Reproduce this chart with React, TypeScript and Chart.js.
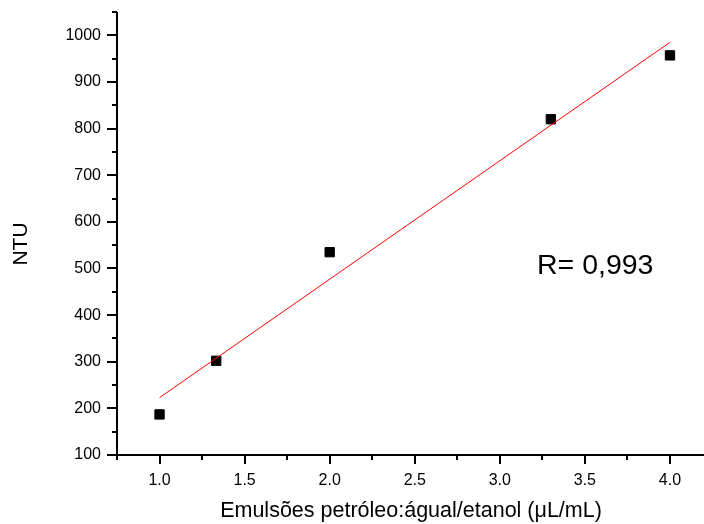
import { useEffect, useRef } from "react";
import { Chart, registerables } from "chart.js";

Chart.register(...registerables);

// Emulsion concentration (µL/mL) vs. turbidity (NTU)
const concentration = [1.0, 1.333, 2.0, 3.3, 4.0];
const ntu = [187, 302, 535, 820, 957];

// Linear fit endpoints
const fitX = [1.0, 4.0];
const fitY = [223, 985];

const xMajorTicks = [1.0, 1.5, 2.0, 2.5, 3.0, 3.5, 4.0];
const xMinorTicks = [0.75, 1.25, 1.75, 2.25, 2.75, 3.25, 3.75];
const yMajorTicks = [100, 200, 300, 400, 500, 600, 700, 800, 900, 1000];
const yMinorTicks = [150, 250, 350, 450, 550, 650, 750, 850, 950, 1050];

const xTitle = "Emulsões petróleo:águal/etanol (μL/mL)";
const yTitle = "NTU";
const rLabel = "R= 0,993";

const FONT = "'Liberation Sans', Arial, Helvetica, sans-serif";

const axesPlugin = {
  id: "originAxes",
  afterDraw(chart: any) {
    const { ctx, chartArea } = chart;
    const xs = chart.scales.x;
    const ys = chart.scales.y;
    const left = chartArea.left;
    const bottom = chartArea.bottom;
    ctx.save();
    ctx.strokeStyle = "#000";
    ctx.lineWidth = 2;
    ctx.lineCap = "butt";
    ctx.beginPath();
    // axis lines
    ctx.moveTo(left, ys.getPixelForValue(1050));
    ctx.lineTo(left, bottom + 1);
    ctx.moveTo(left - 1, bottom);
    ctx.lineTo(chart.width, bottom);
    // y ticks
    yMajorTicks.forEach((v) => {
      const p = Math.round(ys.getPixelForValue(v));
      ctx.moveTo(left - 10, p);
      ctx.lineTo(left, p);
    });
    yMinorTicks.forEach((v) => {
      const p = Math.round(ys.getPixelForValue(v));
      ctx.moveTo(left - 5, p);
      ctx.lineTo(left, p);
    });
    // x ticks
    xMajorTicks.forEach((v) => {
      const p = Math.round(xs.getPixelForValue(v));
      ctx.moveTo(p, bottom);
      ctx.lineTo(p, bottom + 9);
    });
    xMinorTicks.forEach((v) => {
      const p = Math.round(xs.getPixelForValue(v));
      ctx.moveTo(p, bottom);
      ctx.lineTo(p, bottom + 5);
    });
    ctx.stroke();

    // titles and annotation
    ctx.fillStyle = "#000";
    ctx.textAlign = "center";
    ctx.textBaseline = "middle";
    ctx.font = `21.5px ${FONT}`;
    ctx.fillText(xTitle, 411, 511);
    ctx.font = `21px ${FONT}`;
    ctx.save();
    ctx.translate(21, 244);
    ctx.rotate(-Math.PI / 2);
    ctx.fillText(yTitle, 0, 0);
    ctx.restore();
    ctx.font = `28.5px ${FONT}`;
    ctx.textAlign = "left";
    ctx.fillText(rLabel, 537, 266);
    ctx.restore();
  },
};

const noScalePadding = (scale: any) => {
  scale.paddingTop = 0;
  scale.paddingBottom = 0;
  scale.paddingLeft = 0;
  scale.paddingRight = 0;
};

// Tick marks are drawn by the plugin; the library's own are transparent
// and only reserve the gap between axis and labels.
const hiddenTickGrid = {
  display: true,
  drawOnChartArea: false,
  drawTicks: true,
  tickLength: 16,
  color: "rgba(0,0,0,0)",
};

export default function App() {
  const canvasRef = useRef<HTMLCanvasElement | null>(null);

  useEffect(() => {
    document.body.style.margin = "0";
    const canvas = canvasRef.current;
    if (!canvas) return;
    const chart = new Chart(canvas, {
      type: "scatter",
      data: {
        datasets: [
          {
            label: "Ajuste linear",
            type: "line",
            data: fitX.map((x, i) => ({ x, y: fitY[i] })),
            borderColor: "#ff0000",
            borderWidth: 1,
            pointRadius: 0,
            fill: false,
          },
          {
            label: "NTU",
            data: concentration.map((x, i) => ({ x, y: ntu[i] })),
            pointStyle: "rect",
            pointRadius: 6.6,
            pointHoverRadius: 6.6,
            backgroundColor: "#000",
            borderColor: "#000",
            borderWidth: 1,
          },
        ],
      },
      options: {
        responsive: false,
        animation: false,
        events: [],
        layout: {
          autoPadding: false,
          padding: { top: 12, right: 0, left: 0, bottom: 0 },
        },
        plugins: {
          legend: { display: false },
          tooltip: { enabled: false },
          title: { display: false },
        },
        scales: {
          x: {
            type: "linear",
            min: 0.75,
            max: 4.2,
            afterBuildTicks: (scale: any) => {
              scale.ticks = xMajorTicks.map((value) => ({ value }));
            },
            afterFit: (scale: any) => {
              scale.height = 69;
              noScalePadding(scale);
            },
            grid: hiddenTickGrid,
            border: { display: false },
            ticks: {
              color: "#000",
              font: { family: FONT, size: 16 },
              padding: 0,
              maxRotation: 0,
              callback: (v: any) => Number(v).toFixed(1),
            },
          },
          y: {
            type: "linear",
            min: 100,
            max: 1050,
            afterBuildTicks: (scale: any) => {
              scale.ticks = yMajorTicks.map((value) => ({ value }));
            },
            afterFit: (scale: any) => {
              scale.width = 117;
              noScalePadding(scale);
            },
            grid: hiddenTickGrid,
            border: { display: false },
            ticks: {
              color: "#000",
              font: { family: FONT, size: 16 },
              padding: 0,
              callback: (v: any) => String(v),
            },
          },
        },
      },
      plugins: [axesPlugin],
    });
    return () => chart.destroy();
  }, []);

  return (
    <div style={{ width: 704, height: 524 }}>
      <canvas ref={canvasRef} width={704} height={524} />
    </div>
  );
}
